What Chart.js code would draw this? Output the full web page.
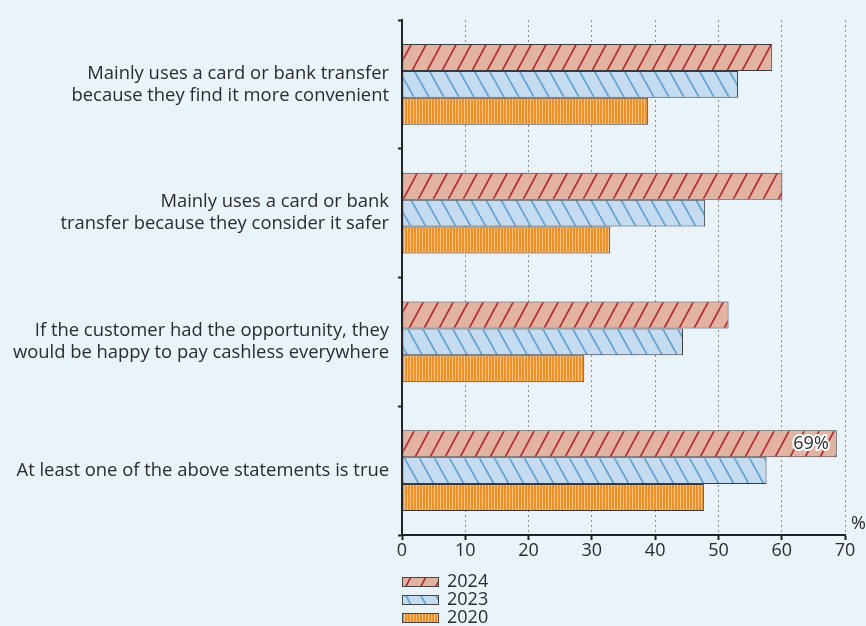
<!DOCTYPE html>
<html>
<head>
<meta charset="utf-8">
<script src="https://cdn.jsdelivr.net/npm/chart.js@4.4.1/dist/chart.umd.min.js"></script>
<style>
  html, body { margin: 0; padding: 0; background: #e9f3fa; }
  #wrap { width: 866px; height: 626px; }
</style>
</head>
<body>
<div id="wrap"><canvas id="c" width="866" height="626"></canvas></div>
<script>
// ---- data ----
const categories = [
  ['Mainly uses a card or bank transfer', 'because they find it more convenient'],
  ['Mainly uses a card or bank', 'transfer because they consider it safer'],
  ['If the customer had the opportunity, they', 'would be happy to pay cashless everywhere'],
  'At least one of the above statements is true'
];
const years = ['2024', '2023', '2020'];
const values2024 = [58.5, 60.1, 51.6, 68.7];
const values2023 = [53.1, 47.9, 44.4, 57.6];
const values2020 = [38.9, 32.9, 28.8, 47.7];
const labels2024 = ['', '', '', '69%'];
const xMin = 0, xMax = 70, xStep = 10;
const unitLabel = '%';

const FONT = '"Open Sans", "Noto Sans", sans-serif';
const TEXT = '#2b2b2b';

// ---- patterns ----
function diagPattern(bg, fg, w, h, forward) {
  const c = document.createElement('canvas');
  c.width = w; c.height = h;
  const g = c.getContext('2d');
  g.fillStyle = bg; g.fillRect(0, 0, w, h);
  g.strokeStyle = fg; g.lineWidth = 1.7;
  for (const s of [-w, 0, w]) {
    g.beginPath();
    if (forward) { g.moveTo(s, h); g.lineTo(s + w, 0); }
    else { g.moveTo(s, 0); g.lineTo(s + w, h); }
    g.stroke();
  }
  return g.createPattern(c, 'repeat');
}
function vertPattern(bg, fg) {
  const c = document.createElement('canvas');
  c.width = 3; c.height = 4;
  const g = c.getContext('2d');
  g.fillStyle = bg; g.fillRect(0, 0, 3, 4);
  g.fillStyle = fg; g.fillRect(2, 0, 1, 4);
  return g.createPattern(c, 'repeat');
}
const pat2024 = diagPattern('#e3b3a2', '#b3282e', 15, 28, true);
const pat2023 = diagPattern('#c5dbf0', '#5fa2d6', 15, 27, false);
const pat2020 = vertPattern('#f68f1f', '#fcc58c');
const patterns = [pat2024, pat2023, pat2020];

// ---- plugins ----
const extras = {
  id: 'extras',
  afterDatasetsDraw(chart) {
    const ctx = chart.ctx;
    const meta = chart.getDatasetMeta(0);
    labels2024.forEach((t, i) => {
      if (!t) return;
      const el = meta.data[i];
      ctx.save();
      ctx.font = '18px ' + FONT;
      ctx.textAlign = 'right';
      ctx.textBaseline = 'middle';
      ctx.lineJoin = 'round';
      ctx.strokeStyle = '#ffffff';
      ctx.lineWidth = 4;
      ctx.strokeText(t, el.x - 8, el.y);
      ctx.fillStyle = TEXT;
      ctx.fillText(t, el.x - 8, el.y);
      ctx.restore();
    });
  },
  afterDraw(chart) {
    const ctx = chart.ctx;
    const xs = chart.scales.x;
    const area = chart.chartArea;
    ctx.save();
    ctx.font = '18px ' + FONT;
    ctx.fillStyle = TEXT;
    ctx.textAlign = 'left';
    ctx.textBaseline = 'middle';
    ctx.fillText(unitLabel, xs.right + 6, area.bottom - 11);
    // legend
    const lx = xs.left;
    years.forEach((y, i) => {
      const top = 577 + i * 18;
      ctx.fillStyle = patterns[i];
      ctx.fillRect(lx, top, 36, 9);
      ctx.strokeStyle = '#444';
      ctx.lineWidth = 1;
      ctx.strokeRect(lx + 0.5, top + 0.5, 36, 9);
      ctx.fillStyle = TEXT;
      ctx.font = '18px ' + FONT;
      ctx.fillText(y, lx + 45, top + 5);
    });
    ctx.restore();
  }
};

const data = {
  labels: categories,
  datasets: [
    { label: years[0], data: values2024, backgroundColor: pat2024 },
    { label: years[1], data: values2023, backgroundColor: pat2023 },
    { label: years[2], data: values2020, backgroundColor: pat2020 }
  ].map(d => Object.assign(d, { borderColor: '#3a3a3a', borderWidth: 1, borderSkipped: false }))
};

new Chart(document.getElementById('c'), {
  type: 'bar',
  data,
  plugins: [extras],
  options: {
    indexAxis: 'y',
    responsive: false,
    animation: false,
    layout: { padding: { top: 12, right: 21, bottom: 61, left: 0 } },
    datasets: { bar: { categoryPercentage: 0.626, barPercentage: 1 } },
    plugins: { legend: { display: false }, tooltip: { enabled: false } },
    scales: {
      x: {
        min: xMin, max: xMax,
        afterFit(s) { s.height = 30; },
        ticks: { stepSize: xStep, color: TEXT, font: { family: FONT, size: 18 }, padding: 0 },
        grid: { color: '#8a8a8a', lineWidth: 1, tickColor: '#222', tickLength: 5, tickWidth: 2 },
        border: { display: true, color: '#222', width: 2, dash: [2, 3] }
      },
      y: {
        afterFit(s) { s.width = 402; },
        ticks: { color: TEXT, font: { family: FONT, size: 18.4, lineHeight: 1.2 }, padding: 9 },
        grid: { drawOnChartArea: false, tickColor: '#222', tickLength: 4, tickWidth: 2, offset: true },
        border: { display: true, color: '#222', width: 2 }
      }
    }
  }
});
</script>
</body>
</html>
